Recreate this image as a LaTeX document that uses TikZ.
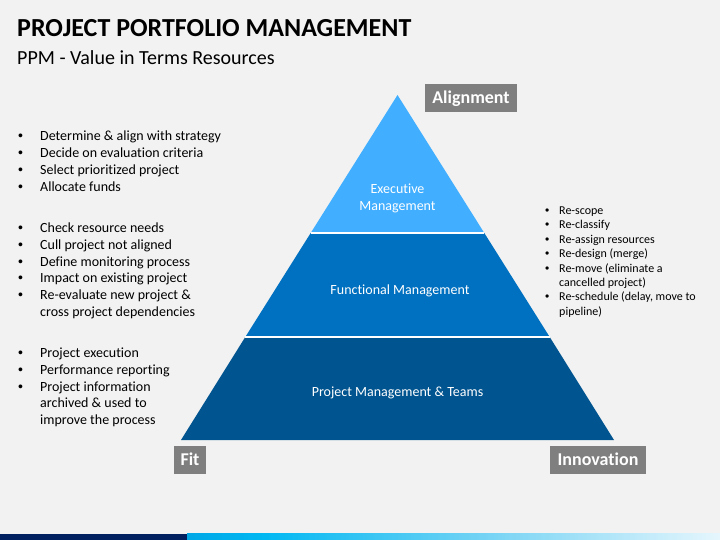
\documentclass[tikz,border=0pt]{standalone}
\usepackage{fontspec}
\setmainfont{Carlito}[RawFeature={-liga;-clig}]
\newfontfamily\bulletfont{Liberation Sans}
\usetikzlibrary{calc}
\definecolor{bg}{HTML}{F2F2F2}
\definecolor{tierA}{HTML}{41AEFF}
\definecolor{tierB}{HTML}{0070C0}
\definecolor{tierC}{HTML}{00548F}
\definecolor{tagGray}{HTML}{7F7F7F}
\definecolor{navy}{HTML}{002060}
\pgfdeclarehorizontalshading{barshade}{100bp}{%
  rgb(0bp)=(0,0.42,0.75);
  rgb(32bp)=(0,0.72,0.95);
  rgb(55bp)=(0.5,0.84,0.96);
  rgb(79bp)=(0.98,0.99,1);
  rgb(90bp)=(0.6,0.85,0.96);
  rgb(100bp)=(0.05,0.55,0.85)}
\tikzset{
  txt/.style={inner sep=0pt, anchor=base west, font=\fontsize{14}{16.8}\selectfont, text=black},
  rtxt/.style={inner sep=0pt, anchor=base west, font=\fontsize{12}{14.4}\selectfont, text=black},
  blt/.style={inner sep=0pt, anchor=base west, font=\bulletfont\fontsize{14}{16.8}\selectfont, text=black},
  rblt/.style={inner sep=0pt, anchor=base west, font=\bulletfont\fontsize{12}{14.4}\selectfont, text=black},
  tierlabel/.style={inner sep=0pt, anchor=base, font=\fontsize{14}{16.8}\selectfont, text=white, align=center},
  tag/.style={fill=tagGray, text=white, font=\fontsize{18}{20}\selectfont\bfseries, inner sep=0pt},
}
\begin{document}
\begin{tikzpicture}[x=1pt,y=-1pt]
\fill[bg] (0,0) rectangle (720,540);
\useasboundingbox (0,0) rectangle (720,540);
% title
\node[inner sep=0pt, anchor=base west, font=\fontsize{26}{30}\selectfont\bfseries] (title) at (17,37) {PROJECT PORTFOLIO MANAGEMENT};
\node[inner sep=0pt, anchor=base west, font=\fontsize{20}{24}\selectfont] (subtitle) at (17,64.5) {PPM - Value in Terms Resources};
% pyramid
\coordinate (apex) at (397.5,95);
\coordinate (bl) at (181,440);
\coordinate (br) at (614,440);
\coordinate (l1) at (310.7,233);
\coordinate (r1) at (484.3,233);
\coordinate (l2) at (245.3,337);
\coordinate (r2) at (549.7,337);
\fill[tierA] (apex) -- (l1) -- (r1) -- cycle;
\fill[tierB] (l1) -- (l2) -- (r2) -- (r1) -- cycle;
\fill[tierC] (l2) -- (bl) -- (br) -- (r2) -- cycle;
\draw[white, line width=1.5pt] (l1) -- (r1);
\draw[white, line width=1.5pt] (l2) -- (r2);
\node[tierlabel] (exec) at (397.5,193.8) {Executive};
\node[tierlabel] (exec2) at (397.5,210.5) {Management};
\node[tierlabel] (func) at (400,294.5) {Functional Management};
\node[tierlabel] (pmt) at (397.5,396.2) {Project Management \& Teams};
% tags
\node[tag, minimum width=92pt, minimum height=28pt] (align) at (471,98.5) {Alignment};
\node[tag, minimum width=32pt, minimum height=28pt] (fit) at (190,459.5) {Fit};
\node[tag, minimum width=96pt, minimum height=28pt] (innov) at (598,459.5) {Innovation};
% left bullets
\foreach \y/\t [count=\i] in {140.8/{Determine \& align with strategy},157.6/{Decide on evaluation criteria},174.4/{Select prioritized project},191.2/{Allocate funds},
  232.5/{Check resource needs},249.3/{Cull project not aligned},266.1/{Define monitoring process},282.9/{Impact on existing project},299.7/{Re-evaluate new project \&},
  357.5/{Project execution},374.3/{Performance reporting},391.1/{Project information}}{
  \node[blt] (lb\i) at (18,\y) {•};
  \node[txt] (lt\i) at (40,\y) {\t};
}
\node[txt] (lc1) at (40,316.5) {cross project dependencies};
\node[txt] (lc2) at (40,407.9) {archived \& used to};
\node[txt] (lc3) at (40,424.7) {improve the process};
% right bullets
\foreach \y/\t [count=\i] in {214.5/{Re-scope},228.9/{Re-classify},243.3/{Re-assign resources},257.7/{Re-design (merge)},272.1/{Re-move (eliminate a},300.9/{Re-schedule (delay, move to}}{
  \node[rblt] (rb\i) at (545,\y) {•};
  \node[rtxt] (rt\i) at (559,\y) {\t};
}
\node[rtxt] (rc1) at (559,286.5) {cancelled project)};
\node[rtxt] (rc2) at (559,315.3) {pipeline)};
% bottom bar
\fill[navy] (0,533.5) rectangle (187,540);
\shade[shading=barshade] (187,533.5) rectangle (720,540);
\end{tikzpicture}
\end{document}
